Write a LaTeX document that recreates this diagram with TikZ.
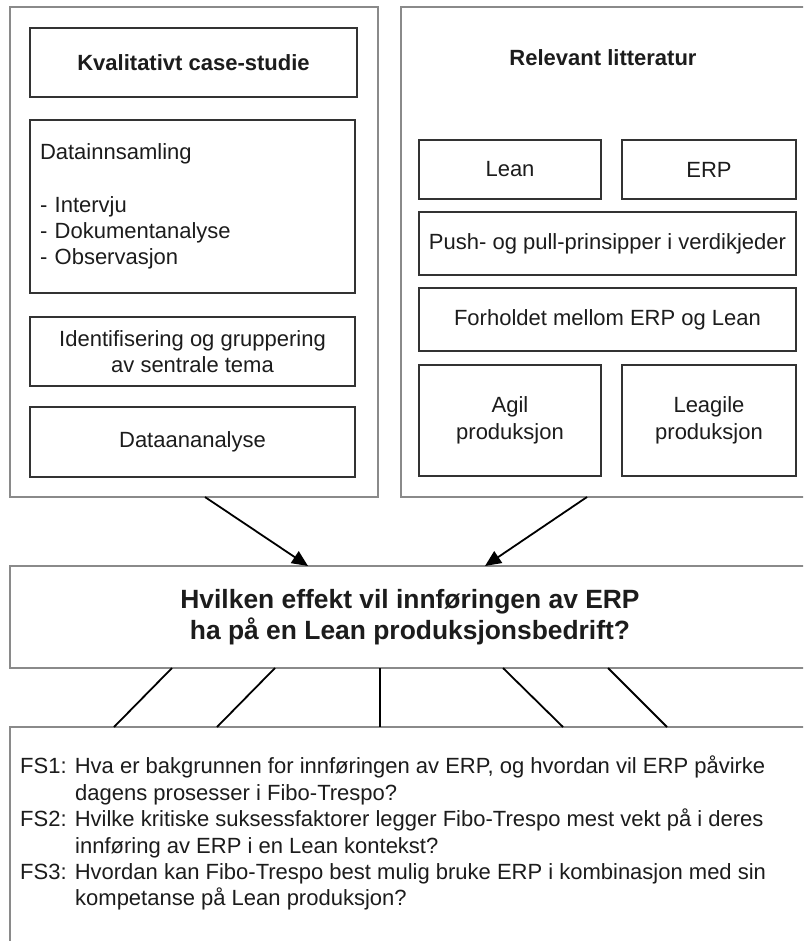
\documentclass[tikz,border=0pt]{standalone}
\usepackage{fontspec}
\setmainfont{Liberation Sans}
\usetikzlibrary{arrows.meta}
\definecolor{panelgray}{HTML}{8A8A8A}
\definecolor{boxline}{HTML}{333333}
\definecolor{ink}{HTML}{1C1C1C}
\newcommand{\bodyfont}{\fontsize{22}{26.4}\selectfont}
\newcommand{\headfont}{\fontsize{22}{26.4}\selectfont\bfseries}
\newcommand{\titlefont}{\fontsize{26.4}{30.4}\selectfont\bfseries}

\begin{document}
\begin{tikzpicture}[x=1pt,y=-1pt,
  panel/.style={draw=panelgray, line width=1.8pt, fill=white, inner sep=0pt,
                outer sep=0pt, anchor=north west, text=ink},
  box/.style={draw=boxline, line width=1.6pt, fill=white, inner sep=0pt,
              outer sep=0pt, anchor=north west, align=center, font=\bodyfont, text=ink},
  conn/.style={draw=black, line width=1.8pt},
  arr/.style={conn, -{Triangle[length=16pt,width=14pt]}}]

% canvas
\useasboundingbox (0,0) rectangle (803,941);
\clip (0,0) rectangle (803,941);
\fill[white] (0,0) rectangle (803,941);

% left column: method
\node[panel, minimum width=368, minimum height=490] (lp) at (10,7) {};
\node[box, minimum width=327, minimum height=69, font=\headfont] (kval) at (30,28) {Kvalitativt case-studie};
\node[box, minimum width=325, minimum height=173, text width=305, align=left] (data) at (30,120)
  {Datainnsamling\\[26.4pt]- Intervju\\- Dokumentanalyse\\- Observasjon};
\node[box, minimum width=325, minimum height=69] (ident) at (30,317) {Identifisering og gruppering\\av sentrale tema};
\node[box, minimum width=325, minimum height=70] (anal) at (30,407) {Dataananalyse};

% right column: literature
\node[panel, minimum width=440, minimum height=490] (rp) at (401,7) {};
\node[font=\headfont, text=ink, inner sep=0pt] (lit) at (603,58) {Relevant litteratur};
\node[box, minimum width=182, minimum height=59] (lean) at (419,140) {Lean};
\node[box, minimum width=174, minimum height=59] (erp) at (622,140) {ERP};
\node[box, minimum width=377, minimum height=63] (push) at (419,212) {Push- og pull-prinsipper i verdikjeder};
\node[box, minimum width=377, minimum height=63] (forh) at (419,288) {Forholdet mellom ERP og Lean};
\node[box, minimum width=182, minimum height=111] (agil) at (419,365) {Agil\\produksjon};
\node[box, minimum width=174, minimum height=111] (leag) at (622,365) {Leagile\\produksjon};

% main research question
\node[panel, minimum width=800, minimum height=102, font=\titlefont, align=center] (main) at (10,566)
  {Hvilken effekt vil innføringen av ERP\\ha på en Lean produksjonsbedrift?};

% sub-questions
\node[panel, minimum width=800, minimum height=260] (qs) at (10,727) {};
\node[anchor=north west, inner sep=0pt, align=left, font=\bodyfont, text=ink] (fs) at (20,756)
  {FS1: Hva er bakgrunnen for innføringen av ERP, og hvordan vil ERP påvirke\\
   \hspace*{55pt}dagens prosesser i Fibo-Trespo?\\
   FS2: Hvilke kritiske suksessfaktorer legger Fibo-Trespo mest vekt på i deres\\
   \hspace*{55pt}innføring av ERP i en Lean kontekst?\\
   FS3: Hvordan kan Fibo-Trespo best mulig bruke ERP i kombinasjon med sin\\
   \hspace*{55pt}kompetanse på Lean produksjon?};

% arrows into the main question
\draw[arr] (lp.south -| 205,0) -- (main.north -| 308,0);
\draw[arr] (rp.south -| 587,0) -- (main.north -| 485,0);

% links from the main question to the sub-questions
\draw[conn] (main.south -| 172,0) -- (qs.north -| 114,0);
\draw[conn] (main.south -| 275,0) -- (qs.north -| 217,0);
\draw[conn] (main.south -| 380,0) -- (qs.north -| 380,0);
\draw[conn] (main.south -| 503,0) -- (qs.north -| 563,0);
\draw[conn] (main.south -| 608,0) -- (qs.north -| 667,0);
\end{tikzpicture}
\end{document}
